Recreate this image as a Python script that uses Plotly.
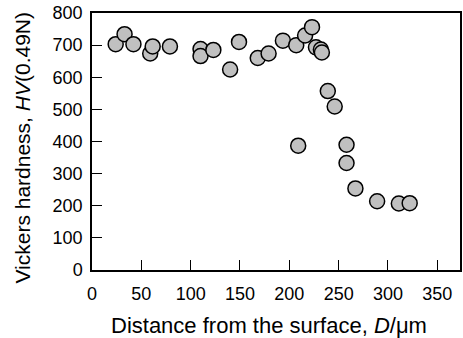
import plotly.graph_objects as go

distance_um = [24, 33, 42, 59, 61.5, 79, 110, 110, 123, 140, 149, 168, 179, 193.5,
               207, 216, 223, 227, 232, 233, 239, 246, 209, 258, 258, 267, 289, 311, 322]
hardness_hv = [703, 734, 703, 674, 696, 696, 688, 666, 685, 624, 710, 660, 674, 714,
               700, 730, 756, 693, 686, 677, 557, 509, 387, 390, 333, 254, 214, 207, 208]

x_ticks = [0, 50, 100, 150, 200, 250, 300, 350]
y_ticks = [0, 100, 200, 300, 400, 500, 600, 700, 800]

FONT = "Liberation Sans, Arial, sans-serif"

fig = go.Figure()
fig.add_trace(go.Scatter(
    x=distance_um, y=hardness_hv, mode="markers",
    marker=dict(size=15, color="#c0c0c0", line=dict(color="black", width=1.5)),
    showlegend=False, cliponaxis=False,
))

axis_common = dict(
    showline=True, linecolor="black", linewidth=1.5, mirror=True,
    ticks="inside", ticklen=10, tickwidth=1.3, tickcolor="black",
    showgrid=False, zeroline=False,
    tickfont=dict(family=FONT, size=18, color="black"),
)

fig.update_layout(
    width=463, height=338,
    margin=dict(l=92, r=1, t=13, b=68),
    paper_bgcolor="white", plot_bgcolor="white",
    font=dict(family=FONT, color="black"),
    xaxis=dict(range=[0, 373], tickvals=x_ticks, ticktext=[str(v) for v in x_ticks],
               ticklabelstandoff=7, **axis_common),
    yaxis=dict(range=[0, 800], tickvals=y_ticks, ticktext=[str(v) for v in y_ticks],
               ticklabelstandoff=4, **axis_common),
    annotations=[
        dict(text="Distance from the surface, <i>D</i>/μm", xref="paper", yref="paper",
             x=(270 - 92) / 370, y=-0.215, xanchor="center", yanchor="middle",
             showarrow=False, font=dict(family=FONT, size=22, color="black")),
        dict(text="Vickers hardness, <i>HV</i>(0.49N)", xref="paper", yref="paper",
             x=(22 - 92) / 370, y=(269.8 - 147) / 257, xanchor="center", yanchor="middle",
             textangle=-90,
             showarrow=False, font=dict(family=FONT, size=21, color="black")),
    ],
)

fig.write_html("out.html", config={"displayModeBar": False},
               post_script="document.body.style.margin='0';")
